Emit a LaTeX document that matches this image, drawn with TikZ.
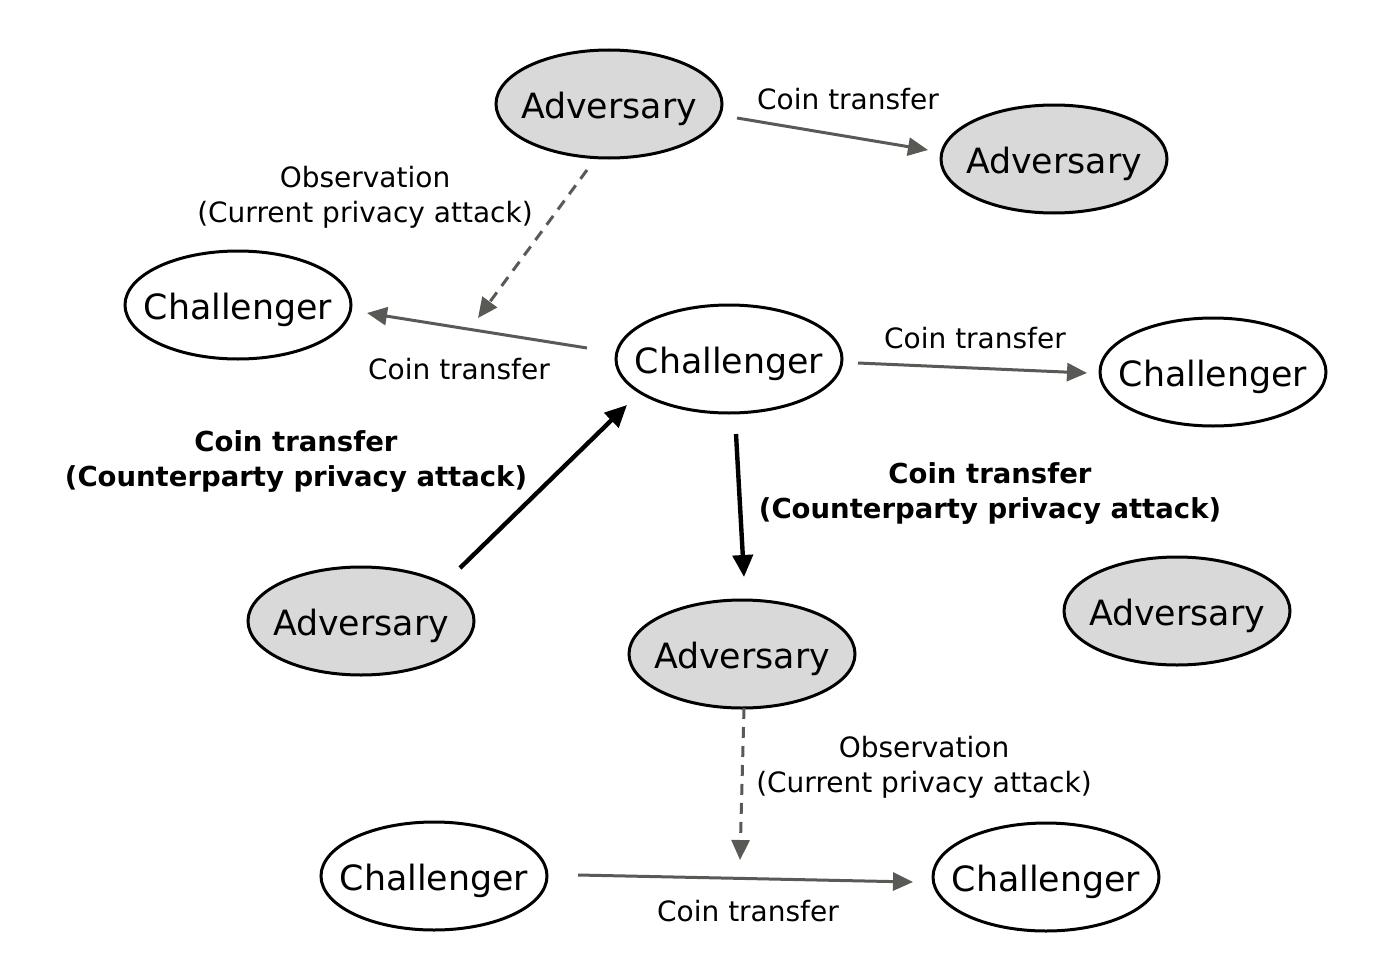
\documentclass[tikz,border=0pt]{standalone}
\usepackage{fontspec}
\setmainfont{DejaVu Sans}
\usetikzlibrary{arrows.meta,shapes.geometric}
\definecolor{advgray}{RGB}{217,217,217}
\definecolor{arrgray}{RGB}{89,89,86}
\begin{document}
\begin{tikzpicture}[x=1pt,y=-1pt,
  ell/.style={ellipse, draw=black, line width=3pt, minimum width=226pt, minimum height=108pt, inner sep=0pt},
  etxt/.style={font=\fontsize{34.8}{40}\selectfont, inner sep=0pt, yshift=-5pt},
  adv/.style={ell, fill=advgray, label={[etxt]center:Adversary}},
  chal/.style={ell, fill=white, label={[etxt]center:Challenger}},
  lbl/.style={font=\fontsize{28}{35}\selectfont, align=center, inner sep=0pt, yshift=-3pt},
  blbl/.style={font=\bfseries\fontsize{27.5}{35}\selectfont, align=center, inner sep=0pt, yshift=-3pt},
  garrow/.style={draw=arrgray, line width=3pt, -{Triangle[length=20pt,width=18pt]}},
  darrow/.style={garrow, dash pattern=on 11pt off 8pt},
  barrow/.style={draw=black, line width=4.4pt, -{Triangle[length=22pt,width=20pt]}}
]
\useasboundingbox (0,0) rectangle (1392,974);

% nodes
\node[adv]  (A1) at (609,104) {};
\node[adv]  (A2) at (1054,159) {};
\node[chal] (C3) at (238,305) {};
\node[chal] (C4) at (729,359) {};
\node[chal] (C5) at (1213,372) {};
\node[adv]  (A6) at (361,621) {};
\node[adv]  (A7) at (742,654) {};
\node[adv]  (A8) at (1177,611) {};
\node[chal] (C9) at (434,876) {};
\node[chal] (C10) at (1046,877) {};

\coordinate (o1) at (478,318);
\coordinate (o2) at (740,860);

% connectors
\draw[garrow] ([shift={(128,14)}]A1.center) -- ([shift={(-126,-9)}]A2.center);
\draw[darrow] ([shift={(-22,66)}]A1.center) -- (o1);
\draw[garrow] ([shift={(-142,-11)}]C4.center) -- ([shift={(129,8)}]C3.center);
\draw[garrow] ([shift={(129,4)}]C4.center) -- ([shift={(-126,1)}]C5.center);
\draw[barrow] ([shift={(99,-53)}]A6.center) -- ([shift={(-102,46)}]C4.center);
\draw[barrow] ([shift={(7,75)}]C4.center) -- ([shift={(2,-77)}]A7.center);
\draw[darrow] ([shift={(2,54)}]A7.center) -- (o2);
\draw[garrow] ([shift={(144,-1)}]C9.center) -- ([shift={(-133,5)}]C10.center);

% labels
\node[lbl] (l1) at (848,96) {Coin transfer};
\node[lbl] (l2) at (365,194.5) {Observation\\(Current privacy attack)};
\node[lbl] (l3) at (459,366) {Coin transfer};
\node[lbl] (l4) at (975,335) {Coin transfer};
\node[blbl] (l5) at (296,458.5) {Coin transfer\\(Counterparty privacy attack)};
\node[blbl] (l6) at (990,490.5) {Coin transfer\\(Counterparty privacy attack)};
\node[lbl] (l7) at (924,764.5) {Observation\\(Current privacy attack)};
\node[lbl] (l8) at (748,908) {Coin transfer};
\end{tikzpicture}
\end{document}
